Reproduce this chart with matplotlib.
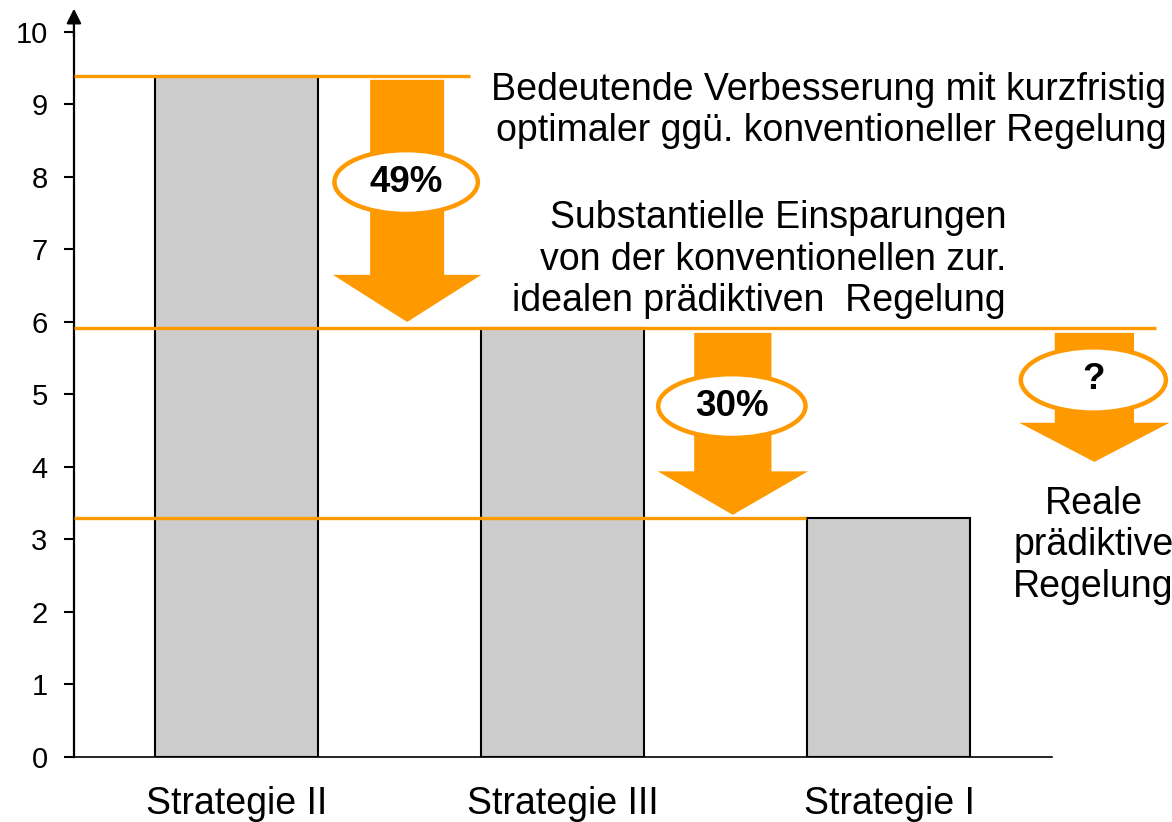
import matplotlib.pyplot as plt
from matplotlib.patches import FancyArrow, Ellipse

plt.rcParams['font.family'] = ['Liberation Sans', 'DejaVu Sans']

# data
categories = ['Strategie II', 'Strategie III', 'Strategie I']
values = [9.39, 5.92, 3.30]
savings = ['49%', '30%', '?']
note_top = 'Bedeutende Verbesserung mit kurzfristig\noptimaler ggü. konventioneller Regelung'
note_mid = 'Substantielle Einsparungen\nvon der konventionellen zur.\nidealen prädiktiven  Regelung'
note_real = 'Reale\nprädiktive\nRegelung'

ORANGE = '#FF9900'
FS = 27

fig = plt.figure(figsize=(11.72, 8.22), dpi=100)
ax = fig.add_axes([0.0631, 0.0791, 0.8345, 0.882])

x = range(len(categories))
ax.bar(x, values, width=0.5, color='#CCCCCC', edgecolor='black', linewidth=1.5, zorder=2)

ax.set_xlim(-0.5, 2.5)
ax.set_ylim(0, 10)
ax.set_yticks(range(0, 11))
ax.set_xticks(list(x))
ax.set_xticklabels(categories)
ax.tick_params(axis='x', length=0, pad=21, labelsize=FS)
ax.tick_params(axis='y', length=7, width=1.5, labelsize=21, direction='out', pad=12)
for s in ['top', 'right']:
    ax.spines[s].set_visible(False)
ax.spines['left'].set_linewidth(1.6)
ax.spines['bottom'].set_linewidth(1.2)

# arrow on y axis
ax.annotate('', xy=(0, 1.036), xytext=(0, 0.99), xycoords='axes fraction',
            arrowprops=dict(arrowstyle='-|>', color='black', lw=1.6, mutation_scale=22))

# reference lines (end points in x)
line_ends = [0.716, 2.82, 1.745]
for v, xe in zip(values, line_ends):
    ax.plot([-0.5, xe], [v, v], color=ORANGE, lw=2.4, zorder=4, clip_on=False,
            solid_capstyle='butt')

# down arrows with ellipse labels
arrow_x = [0.522, 1.521, 2.63]
arrow_top = [9.34, 5.85, 5.85]
arrow_tip = [6.0, 3.34, 4.07]
head_len = [0.65, 0.60, 0.54]
shaft_w = [0.227, 0.237, 0.243]
head_w = [0.455, 0.461, 0.461]
ell_y = [7.93, 4.84, 5.2]
ell_w = [0.44, 0.452, 0.445]
ell_h = [0.88, 0.88, 0.90]

for i in range(3):
    arr = FancyArrow(arrow_x[i], arrow_top[i], 0, arrow_tip[i] - arrow_top[i],
                     width=shaft_w[i], head_width=head_w[i], head_length=head_len[i],
                     length_includes_head=True, color=ORANGE, lw=0, zorder=5,
                     clip_on=False)
    ax.add_patch(arr)
    el = Ellipse((arrow_x[i] - 0.003, ell_y[i]), ell_w[i], ell_h[i], facecolor='white',
                 edgecolor=ORANGE, lw=3.2, zorder=6, clip_on=False)
    ax.add_patch(el)
    ax.text(arrow_x[i] - 0.003, ell_y[i], savings[i], ha='center', va='center',
            fontsize=26.5, fontweight='bold', zorder=7, clip_on=False)

ax.text(2.851, 8.92, note_top, ha='right', va='center', multialignment='right',
        fontsize=FS, linespacing=1.19, clip_on=False)
ax.text(2.359, 6.86, note_mid, ha='right', va='center', multialignment='right',
        fontsize=FS, linespacing=1.19, clip_on=False)
ax.text(2.627, 2.92, note_real, ha='center', va='center', multialignment='center',
        fontsize=FS, linespacing=1.19, clip_on=False)

fig.savefig('out.png', dpi=100)
